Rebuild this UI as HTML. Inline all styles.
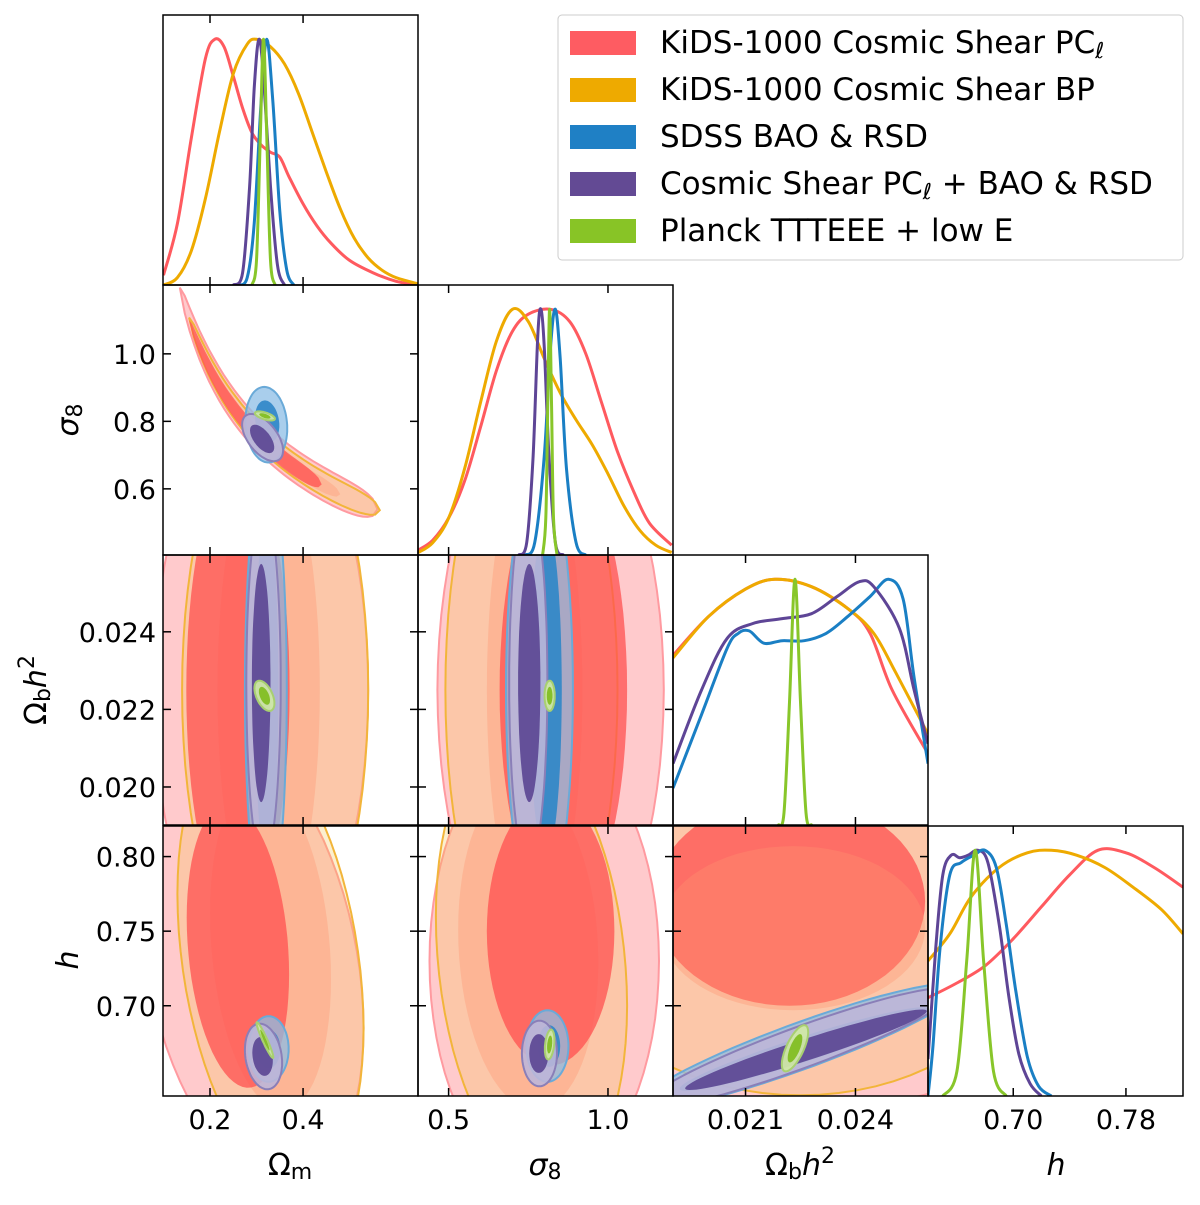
<!DOCTYPE html>
<html><head><meta charset="utf-8"><style>
html,body{margin:0;padding:0;background:#fff}
svg{display:block;font-family:"DejaVu Sans","Liberation Sans",sans-serif}
</style></head><body>
<svg id="chart" width="1200" height="1205" viewBox="0 0 1200 1205" xmlns="http://www.w3.org/2000/svg">
<g id="panels"></g>
<g id="frames"></g>
<g id="legend">
<rect x="558" y="15" width="625" height="245" rx="4" fill="#fff" stroke="#ccc" stroke-width="1"/>
<g><rect x="570" y="31" width="66" height="24" fill="#fe5c62"/><text x="660" y="53" font-size="31">KiDS-1000 Cosmic Shear PC<tspan font-style="italic" font-size="22" dy="5">ℓ</tspan></text></g>
<g><rect x="570" y="78" width="66" height="24" fill="#eeaa00"/><text x="660" y="100" font-size="31">KiDS-1000 Cosmic Shear BP</text></g>
<g><rect x="570" y="125" width="66" height="24" fill="#1f80c5"/><text x="660" y="147" font-size="31">SDSS BAO &amp; RSD</text></g>
<g><rect x="570" y="172" width="66" height="24" fill="#634a94"/><text x="660" y="194" font-size="31">Cosmic Shear PC<tspan font-style="italic" font-size="22" dy="5">ℓ</tspan><tspan dy="-5"> + BAO &amp; RSD</tspan></text></g>
<g><rect x="570" y="219" width="66" height="24" fill="#88c426"/><text x="660" y="241" font-size="31">Planck TTTEEE + low E</text></g>
</g>
<g id="labels" font-size="30">
<text x="290" y="1175" text-anchor="middle">Ω<tspan font-size="22" dy="4">m</tspan></text>
<text x="545" y="1175" text-anchor="middle" font-style="italic">σ<tspan font-size="22" dy="4" font-style="normal">8</tspan></text>
<text x="800" y="1175" text-anchor="middle">Ω<tspan font-size="22" dy="4">b</tspan><tspan dy="-4" font-style="italic">h</tspan><tspan font-size="22" dy="-12">2</tspan></text>
<text x="1056" y="1175" text-anchor="middle" font-style="italic">h</text>
<text transform="translate(78,420) rotate(-90)" text-anchor="middle" font-style="italic">σ<tspan font-size="22" dy="4" font-style="normal">8</tspan></text>
<text transform="translate(46,690) rotate(-90)" text-anchor="middle">Ω<tspan font-size="22" dy="4">b</tspan><tspan dy="-4" font-style="italic">h</tspan><tspan font-size="22" dy="-12">2</tspan></text>
<text transform="translate(78,960) rotate(-90)" text-anchor="middle" font-style="italic">h</text>
</g>
</svg>
<script>
// ---- axis ranges ----
const paramNames = ["om","s8","obh2","h"];
const paramLo = [0.099, 0.404, 0.01902, 0.6395];
const paramHi = [0.647, 1.204, 0.02598, 0.8205];
const xTicks = [[0.2,0.4],[0.5,1.0],[0.021,0.024],[0.70,0.78]];
const xTickLabels = [["0.2","0.4"],["0.5","1.0"],["0.021","0.024"],["0.70","0.78"]];
const yTicks = [[],[0.6,0.8,1.0],[0.020,0.022,0.024],[0.70,0.75,0.80]];
const yTickLabels = [[],["0.6","0.8","1.0"],["0.020","0.022","0.024"],["0.70","0.75","0.80"]];

// ---- 1D marginals: [x values], [normalised density] ----
const om_pcl_x=[0.10,0.13,0.16,0.19,0.21,0.23,0.25,0.27,0.29,0.31,0.33,0.35,0.37,0.40,0.43,0.46,0.50,0.55,0.60,0.647];
const om_pcl_y=[0.04,0.25,0.6,0.92,1.0,0.97,0.85,0.72,0.62,0.57,0.54,0.52,0.44,0.33,0.24,0.17,0.1,0.05,0.015,0.0];
const om_bp_x=[0.10,0.13,0.16,0.19,0.22,0.25,0.28,0.30,0.33,0.36,0.39,0.42,0.45,0.48,0.51,0.54,0.57,0.60,0.647];
const om_bp_y=[0.0,0.03,0.14,0.35,0.62,0.86,0.98,1.0,0.97,0.9,0.78,0.62,0.46,0.31,0.19,0.11,0.06,0.03,0.005];
const om_sdss_x=[0.26,0.28,0.295,0.31,0.322,0.335,0.35,0.365,0.38];
const om_sdss_y=[0,0.03,0.25,0.75,1,0.75,0.3,0.06,0];
const om_comb_x=[0.25,0.27,0.285,0.295,0.305,0.315,0.33,0.345,0.36];
const om_comb_y=[0,0.05,0.4,0.8,1,0.85,0.4,0.08,0];
const om_planck_x=[0.29,0.30,0.308,0.315,0.322,0.33,0.34];
const om_planck_y=[0,0.1,0.6,1,0.6,0.1,0];

const s8_pcl_x=[0.405,0.45,0.5,0.55,0.6,0.65,0.7,0.75,0.82,0.88,0.93,0.98,1.03,1.08,1.13,1.2];
const s8_pcl_y=[0.02,0.06,0.15,0.3,0.52,0.75,0.91,0.98,1.0,0.95,0.82,0.62,0.42,0.26,0.13,0.04];
const s8_bp_x=[0.405,0.45,0.5,0.55,0.6,0.65,0.7,0.75,0.8,0.85,0.9,0.95,1.0,1.05,1.1,1.15,1.2];
const s8_bp_y=[0.01,0.05,0.15,0.35,0.62,0.87,1.0,0.95,0.8,0.66,0.55,0.45,0.33,0.2,0.1,0.04,0.01];
const s8_sdss_x=[0.74,0.77,0.8,0.82,0.835,0.85,0.87,0.9,0.93];
const s8_sdss_y=[0,0.05,0.4,0.85,1,0.8,0.35,0.05,0];
const s8_comb_x=[0.72,0.745,0.765,0.78,0.79,0.8,0.815,0.835,0.86];
const s8_comb_y=[0,0.05,0.4,0.9,1,0.85,0.4,0.05,0];
const s8_planck_x=[0.795,0.805,0.811,0.817,0.823,0.829,0.84];
const s8_planck_y=[0,0.15,0.6,1,0.6,0.15,0];

const ob_pcl_x=[0.01902,0.0200,0.0210,0.0218,0.0228,0.0238,0.0244,0.0250,0.02598];
const ob_pcl_y=[0.69,0.85,0.96,1.0,0.97,0.88,0.78,0.55,0.29];
const ob_bp_x=[0.01902,0.0200,0.0210,0.0218,0.0228,0.0238,0.0245,0.0251,0.02598];
const ob_bp_y=[0.68,0.85,0.96,1.0,0.97,0.88,0.78,0.62,0.37];
const ob_comb_x=[0.01902,0.0198,0.0205,0.0212,0.0220,0.0228,0.0235,0.0241,0.0245,0.0252,0.0256,0.02598];
const ob_comb_y=[0.25,0.55,0.76,0.82,0.84,0.86,0.93,0.99,0.97,0.8,0.55,0.33];
const ob_sdss_x=[0.01902,0.0198,0.0205,0.0208,0.0211,0.0215,0.0220,0.0226,0.0232,0.0238,0.0244,0.0249,0.0253,0.0256,0.02598];
const ob_sdss_y=[0.15,0.45,0.72,0.78,0.79,0.74,0.75,0.75,0.78,0.85,0.93,1.0,0.92,0.6,0.25];
const ob_planck_x=[0.0219,0.02205,0.0222,0.02235,0.0225,0.02265,0.0228];
const ob_planck_y=[0,0.05,0.5,1,0.5,0.05,0];

const h_pcl_x=[0.6395,0.66,0.68,0.70,0.72,0.74,0.76,0.78,0.80,0.8205];
const h_pcl_y=[0.4,0.46,0.53,0.64,0.77,0.9,1.0,0.99,0.93,0.85];
const h_bp_x=[0.6395,0.655,0.67,0.69,0.71,0.727,0.745,0.765,0.785,0.805,0.8205];
const h_bp_y=[0.55,0.66,0.81,0.93,0.99,1.0,0.98,0.93,0.85,0.76,0.66];
const h_comb_x=[0.6395,0.645,0.65,0.656,0.662,0.668,0.675,0.682,0.69,0.697,0.704,0.712,0.72];
const h_comb_y=[0.15,0.6,0.9,0.98,0.97,0.98,1.0,0.95,0.7,0.4,0.17,0.05,0];
const h_sdss_x=[0.6395,0.643,0.648,0.655,0.663,0.672,0.68,0.688,0.695,0.702,0.71,0.718,0.727];
const h_sdss_y=[0.0,0.2,0.6,0.9,0.95,0.98,1.0,0.93,0.7,0.42,0.16,0.04,0];
const h_planck_x=[0.65,0.66,0.667,0.673,0.679,0.686,0.695];
const h_planck_y=[0,0.1,0.55,1,0.55,0.1,0];

// ---- 2D contours: [series, level, centreX, centreY, halfX, halfY, rho] ----
const c_s8_om=[
 ["sdss",2,0.321,0.79,0.045,0.112,-0.1],["sdss",1,0.323,0.80,0.026,0.062,-0.2],
 ["comb",2,0.313,0.752,0.044,0.07,-0.55],["comb",1,0.312,0.748,0.026,0.042,-0.6],
 ["planck",2,0.318,0.816,0.0215,0.0135,-0.6],["planck",1,0.318,0.816,0.012,0.008,-0.6]];
// banana: [series, level, amplitude, slope, omMin, omMax, halfWidth]
const b_s8_om=[["pcl",2,0.765,0.56,0.135,0.56,0.05],["bp",2,0.765,0.56,0.155,0.565,0.036],
 ["bp",1,0.76,0.56,0.17,0.48,0.024],["pcl",1,0.76,0.56,0.155,0.44,0.028]];
const c_ob_om=[
 ["pcl",2,0.31,0.0225,0.23,0.0075,0],["bp",2,0.34,0.0225,0.2,0.0075,0],
 ["bp",1,0.326,0.0225,0.11,0.0062,0],["pcl",1,0.26,0.0225,0.111,0.0058,0],
 ["sdss",2,0.32,0.0225,0.045,0.0058,0],["sdss",1,0.322,0.0225,0.025,0.0045,0],
 ["comb",2,0.315,0.02268,0.037,0.0046,0],["comb",1,0.31,0.02268,0.02,0.00307,0],
 ["planck",2,0.317,0.02235,0.0215,0.00039,-0.5],["planck",1,0.317,0.02235,0.012,0.00023,-0.5]];
const c_ob_s8=[
 ["pcl",2,0.82,0.0225,0.355,0.0075,0],["bp",2,0.76,0.0225,0.27,0.0075,0],
 ["bp",1,0.77,0.0225,0.15,0.0062,0],["pcl",1,0.86,0.0225,0.2,0.0058,0],
 ["sdss",2,0.785,0.0225,0.105,0.0058,0],["sdss",1,0.805,0.0225,0.05,0.0043,0],
 ["comb",2,0.75,0.02268,0.06,0.0047,0],["comb",1,0.753,0.02268,0.035,0.00307,0],
 ["planck",2,0.817,0.02235,0.016,0.00039,0],["planck",1,0.817,0.02235,0.009,0.00023,0]];
const c_h_om=[
 ["pcl",2,0.29,0.73,0.24,0.15,-0.3],["bp",2,0.33,0.73,0.2,0.15,-0.3],
 ["bp",1,0.33,0.74,0.13,0.11,-0.2],["pcl",1,0.26,0.74,0.11,0.095,-0.2],
 ["sdss",2,0.326,0.671,0.043,0.022,0],["sdss",1,0.326,0.671,0.025,0.013,0],
 ["comb",2,0.315,0.666,0.04,0.022,-0.2],["comb",1,0.313,0.666,0.022,0.013,-0.2],
 ["planck",2,0.318,0.677,0.018,0.012,-0.95],["planck",1,0.318,0.677,0.01,0.007,-0.95]];
const c_h_s8=[
 ["pcl",2,0.8,0.73,0.36,0.15,0],["bp",2,0.76,0.73,0.3,0.15,-0.2],
 ["bp",1,0.75,0.74,0.22,0.11,-0.1],["pcl",1,0.82,0.75,0.2,0.09,0],
 ["sdss",2,0.81,0.673,0.066,0.024,0],["sdss",1,0.815,0.673,0.035,0.014,0],
 ["comb",2,0.785,0.668,0.055,0.022,0],["comb",1,0.783,0.668,0.03,0.013,0],
 ["planck",2,0.817,0.674,0.015,0.01,0.3],["planck",1,0.817,0.674,0.008,0.006,0.3]];
const c_h_ob=[
 ["pcl",2,0.0225,0.74,0.008,0.11,0],["bp",2,0.0225,0.74,0.006,0.1,0],
 ["pcl",1,0.0222,0.77,0.0037,0.07,0],["bp",1,0.0223,0.752,0.0036,0.055,0],
 ["sdss",2,0.0225,0.673,0.0044,0.042,0.92],["sdss",1,0.0226,0.671,0.0034,0.028,0.95],
 ["comb",2,0.0225,0.672,0.0042,0.04,0.93],["comb",1,0.02265,0.6705,0.0033,0.027,0.96],
 ["planck",2,0.02235,0.6715,0.00036,0.0155,0.7],["planck",1,0.02235,0.6715,0.0002,0.0095,0.7]];

const colX0=[163,418,673,928], rowY0=[15,285,555,826], PW=255, PH=270;
const lineColor={pcl:"#ff5a5f",bp:"#eeaa00",sdss:"#1a7fc4",comb:"#5e4596",planck:"#88c62a"};
const fillStyle={
 pcl:{2:["#ffc4c6",0.9,"#ff9aa0"],1:["#ff5050",0.75,"none"]},
 bp:{2:["#f2c040",0.25,"#f2b53a"],1:["#ff9670",0.35,"none"]},
 sdss:{2:["#8cbee6",0.75,"#6aaad8"],1:["#2e86c8",0.9,"none"]},
 comb:{2:["#bdb6d8",0.9,"#8a7fb8"],1:["#5f4b96",0.95,"none"]},
 planck:{2:["#d0e8a8",0.95,"#a8d070"],1:["#86c02a",1,"none"]}};

function X(i,v){return colX0[i]+(v-paramLo[i])/(paramHi[i]-paramLo[i])*PW;}
function Y(j,v){return rowY0[j]+PH-(v-paramLo[j])/(paramHi[j]-paramLo[j])*PH;}
const NS="http://www.w3.org/2000/svg";
function el(t,a,p){const e=document.createElementNS(NS,t);for(const k in a)e.setAttribute(k,a[k]);p.appendChild(e);return e;}
const panels=document.getElementById("panels"), frames=document.getElementById("frames");
function smoothPath(pts){let d="M"+pts[0][0].toFixed(1)+","+pts[0][1].toFixed(1);
 for(let k=0;k<pts.length-1;k++){const p0=pts[Math.max(k-1,0)],p1=pts[k],p2=pts[k+1],p3=pts[Math.min(k+2,pts.length-1)];
  const c1=[p1[0]+(p2[0]-p0[0])/6,p1[1]+(p2[1]-p0[1])/6],c2=[p2[0]-(p3[0]-p1[0])/6,p2[1]-(p3[1]-p1[1])/6];
  d+=` C${c1[0].toFixed(1)},${c1[1].toFixed(1)} ${c2[0].toFixed(1)},${c2[1].toFixed(1)} ${p2[0].toFixed(1)},${p2[1].toFixed(1)}`;}
 return d;}
function panelGroup(i,j,name){
 const cid="clip"+i+j;
 const cp=el("clipPath",{id:cid},panels);el("rect",{x:colX0[i],y:rowY0[j],width:PW,height:PH},cp);
 const g=el("g",{"clip-path":"url(#"+cid+")"},panels);
 
 
 return g;}
function drawShape(g,ser,lev,pts,name){
 const s=fillStyle[ser][lev];
 const p=el("path",{d:"M"+pts.map(q=>q[0].toFixed(1)+","+q[1].toFixed(1)).join("L")+"Z",fill:s[0],"fill-opacity":s[1],stroke:s[2],"stroke-width":lev==2?2:0},g);
 
 }
function drawEllipses(g,i,j,list){
 list.forEach(c=>{const [ser,lev,cx,cy,rx,ry,rho]=c;const pts=[];
  for(let k=0;k<72;k++){const t=k/72*2*Math.PI;
   pts.push([X(i,cx+rx*Math.cos(t)),Y(j,cy+ry*(rho*Math.cos(t)+Math.sqrt(1-rho*rho)*Math.sin(t)))]);}
  drawShape(g,ser,lev,pts,"contour-"+ser+"-"+(lev==1?"68":"95"));});}
function drawBanana(g,i,j,list){
 list.forEach(b=>{const [ser,lev,A,al,mn,mx,w]=b;const up=[],dn=[];
  for(let k=0;k<=40;k++){const u=k/40;const om=mn+(mx-mn)*u;const s=A*Math.pow(om/0.3,-al);
   const ww=w*Math.sqrt(Math.max(0,1-Math.pow(2*u-1,6)));
   up.push([X(i,om),Y(j,s+ww)]);dn.push([X(i,om),Y(j,s-ww)]);}
  drawShape(g,ser,lev,up.concat(dn.reverse()),"contour-"+ser+"-"+(lev==1?"68":"95"));});}
function drawLine(g,i,ser,xs,ys){
 const pts=xs.map((v,k)=>[X(i,v),rowY0[i]+PH-ys[k]*PH*0.91]);
 const p=el("path",{d:smoothPath(pts),fill:"none",stroke:lineColor[ser],"stroke-width":3},g);
 
 }

// 1D
let g=panelGroup(0,0,"panel-omega-m-1d");
drawLine(g,0,"pcl",om_pcl_x,om_pcl_y);drawLine(g,0,"bp",om_bp_x,om_bp_y);drawLine(g,0,"sdss",om_sdss_x,om_sdss_y);drawLine(g,0,"comb",om_comb_x,om_comb_y);drawLine(g,0,"planck",om_planck_x,om_planck_y);
g=panelGroup(1,1,"panel-sigma8-1d");
drawLine(g,1,"pcl",s8_pcl_x,s8_pcl_y);drawLine(g,1,"bp",s8_bp_x,s8_bp_y);drawLine(g,1,"sdss",s8_sdss_x,s8_sdss_y);drawLine(g,1,"comb",s8_comb_x,s8_comb_y);drawLine(g,1,"planck",s8_planck_x,s8_planck_y);
g=panelGroup(2,2,"panel-omega-b-h2-1d");
drawLine(g,2,"pcl",ob_pcl_x,ob_pcl_y);drawLine(g,2,"bp",ob_bp_x,ob_bp_y);drawLine(g,2,"sdss",ob_sdss_x,ob_sdss_y);drawLine(g,2,"comb",ob_comb_x,ob_comb_y);drawLine(g,2,"planck",ob_planck_x,ob_planck_y);
g=panelGroup(3,3,"panel-h-1d");
drawLine(g,3,"pcl",h_pcl_x,h_pcl_y);drawLine(g,3,"bp",h_bp_x,h_bp_y);drawLine(g,3,"comb",h_comb_x,h_comb_y);drawLine(g,3,"sdss",h_sdss_x,h_sdss_y);drawLine(g,3,"planck",h_planck_x,h_planck_y);
// 2D
g=panelGroup(0,1,"panel-sigma8-vs-omega-m");drawBanana(g,0,1,b_s8_om);drawEllipses(g,0,1,c_s8_om);
g=panelGroup(0,2,"panel-omega-b-h2-vs-omega-m");drawEllipses(g,0,2,c_ob_om);
g=panelGroup(1,2,"panel-omega-b-h2-vs-sigma8");drawEllipses(g,1,2,c_ob_s8);
g=panelGroup(0,3,"panel-h-vs-omega-m");drawEllipses(g,0,3,c_h_om);
g=panelGroup(1,3,"panel-h-vs-sigma8");drawEllipses(g,1,3,c_h_s8);
g=panelGroup(2,3,"panel-h-vs-omega-b-h2");drawEllipses(g,2,3,c_h_ob);

// frames & ticks
for(let j=0;j<4;j++)for(let i=0;i<=j;i++){
 const x0=colX0[i],y0=rowY0[j];
 const r=el("rect",{x:x0,y:y0,width:PW,height:PH,fill:"none",stroke:"#000","stroke-width":1.5},frames);
 
 
 xTicks[i].forEach(v=>{const x=X(i,v);el("line",{x1:x,x2:x,y1:y0+PH,y2:y0+PH-8,stroke:"#000","stroke-width":1.5},frames);el("line",{x1:x,x2:x,y1:y0,y2:y0+8,stroke:"#000","stroke-width":1.5},frames);});
 if(i!=j)yTicks[j].forEach(v=>{const y=Y(j,v);el("line",{x1:x0,x2:x0+8,y1:y,y2:y,stroke:"#000","stroke-width":1.5},frames);el("line",{x1:x0+PW,x2:x0+PW-8,y1:y,y2:y,stroke:"#000","stroke-width":1.5},frames);});
}
for(let i=0;i<4;i++)xTicks[i].forEach((v,k)=>{const t=el("text",{x:X(i,v),y:1129,"font-size":27,"text-anchor":"middle"},frames);t.textContent=xTickLabels[i][k];
 
 });
for(let j=1;j<4;j++)yTicks[j].forEach((v,k)=>{const t=el("text",{x:156,y:Y(j,v)+10,"font-size":27,"text-anchor":"end"},frames);t.textContent=yTickLabels[j][k];
 
 });
</script>
</body></html>
